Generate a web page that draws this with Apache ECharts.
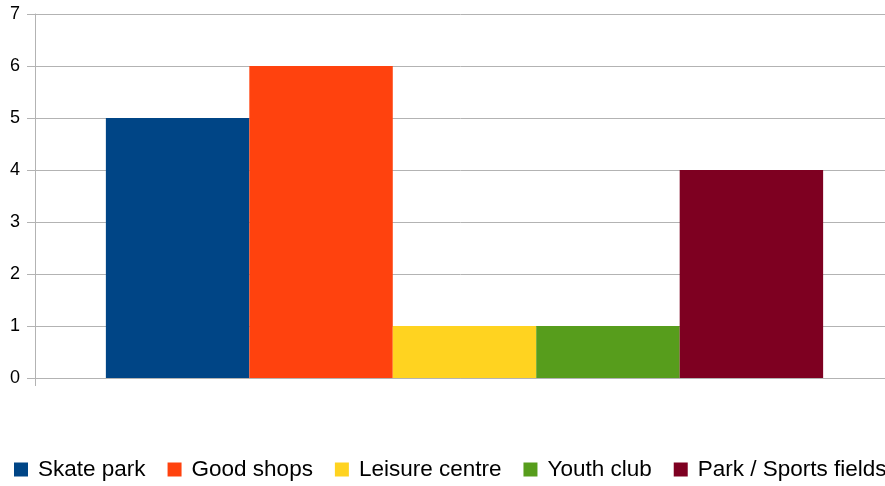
<!DOCTYPE html>
<html><head><meta charset="utf-8">
<script src="https://cdn.jsdelivr.net/npm/echarts@6/dist/echarts.min.js"></script>
<style>html,body{margin:0;padding:0;background:#fff}#c{width:885px;height:486px}</style>
</head><body><div id="c"></div>
<script>
const categories = [''];
const seriesNames = ['Skate park', 'Good shops', 'Leisure centre', 'Youth club', 'Park / Sports fields'];
const seriesValues = [5, 6, 1, 1, 4];
const seriesColors = ['#004586', '#ff420e', '#ffd320', '#579d1c', '#7e0021'];
const yTicks = [0, 1, 2, 3, 4, 5, 6, 7];

const chart = echarts.init(document.getElementById('c'));
chart.setOption({
  animation: false,
  textStyle: { fontFamily: 'Liberation Sans' },
  grid: { left: 35, width: 859, top: 14, bottom: 108, containLabel: false, outerBoundsMode: 'none' },
  legend: {
    top: 458, left: 14, width: 1000, padding: 0,
    itemWidth: 14, itemHeight: 14, itemGap: 22,
    icon: 'rect',
    textStyle: { fontSize: 22.5, color: '#000', fontFamily: 'Liberation Sans', padding: [0, 0, 0, 5] },
    data: seriesNames
  },
  xAxis: {
    type: 'category', data: categories,
    axisLine: { lineStyle: { color: '#b3b3b3' } },
    axisTick: { show: true, length: 8, lineStyle: { color: '#b3b3b3' } },
    axisLabel: { show: false }
  },
  yAxis: {
    type: 'value', min: yTicks[0], max: yTicks[yTicks.length - 1], interval: 1,
    axisLine: { show: true, lineStyle: { color: '#b3b3b3' } },
    axisTick: { show: true, length: 8, lineStyle: { color: '#b3b3b3' } },
    axisLabel: { fontSize: 18, color: '#000', margin: 15 },
    splitLine: { lineStyle: { color: '#b3b3b3' } }
  },
  series: seriesNames.map((n, i) => ({
    name: n, type: 'bar', data: [seriesValues[i]],
    itemStyle: { color: seriesColors[i] },
    barGap: '0%', barCategoryGap: '16.5%'
  }))
});
</script></body></html>
